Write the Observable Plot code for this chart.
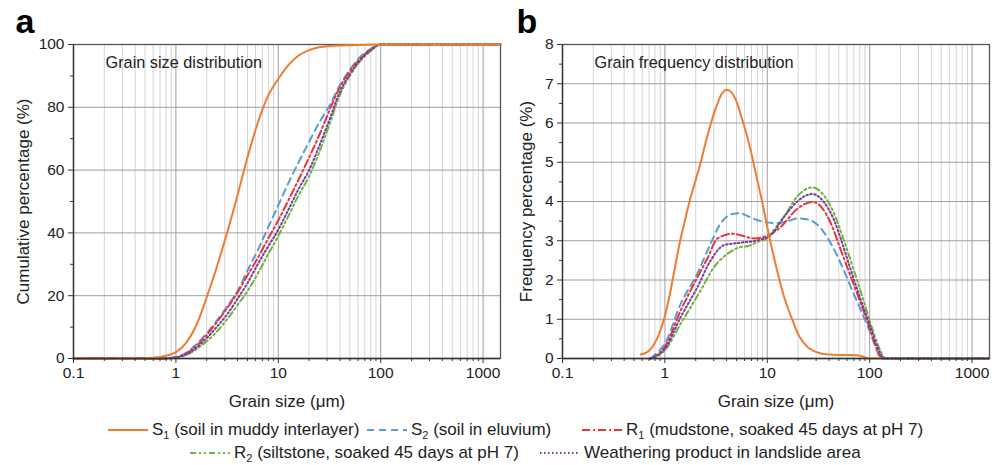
<!DOCTYPE html>
<html><head><meta charset="utf-8">
<script src="https://cdn.jsdelivr.net/npm/d3@7"></script>
<script src="https://cdn.jsdelivr.net/npm/@observablehq/plot@0.6"></script>
<style>
body{margin:0;background:#fff;}
#wrap{position:relative;width:998px;height:465px;font-family:"Liberation Sans",Arial,sans-serif;color:#222;overflow:hidden;}
#wrap > svg{position:absolute;top:0;}
.leg{position:absolute;display:flex;align-items:center;font-size:17px;white-space:nowrap;line-height:20px;color:#222;}
.leg svg{margin-right:4px;}
.leg sub{font-size:11px;vertical-align:-4px;line-height:0;}
</style></head><body><div id="wrap"></div>
<script>
// ---------- data ----------
const sizeTicks = [0.1, 1, 10, 100, 1000];
const sizeTickLabels = ["0.1", "1", "10", "100", "1000"];
const cumTicks = [0, 20, 40, 60, 80, 100];
const freqTicks = [0, 1, 2, 3, 4, 5, 6, 7, 8];

const seriesLabels = [
  "S<sub>1</sub> (soil in muddy interlayer)",
  "S<sub>2</sub> (soil in eluvium)",
  "R<sub>1</sub> (mudstone, soaked 45 days at pH 7)",
  "R<sub>2</sub> (siltstone, soaked 45 days at pH 7)",
  "Weathering product in landslide area"
];

// cumulative percentage (%) vs grain size (µm)
const cumS1 = [[0.1,0],[0.45,0],[0.55,0.15],[0.7,0.5],[0.85,1.1],[1,2],[1.26,5],[1.58,10.5],[2,19.5],[2.5,29],[3.16,40],[4,52],[5,64],[6.3,75],[7.9,83.5],[10,89],[12.6,93.5],[15.8,96.5],[20,98.2],[25,99.1],[32,99.5],[50,99.8],[100,100],[1480,100]];
const cumS2 = [[0.1,0],[0.72,0],[0.85,0.15],[1,0.5],[1.26,1.8],[1.58,4.5],[2,8],[2.5,12],[3.16,16.5],[4,21.5],[5,28],[6.3,34.5],[7.9,41.5],[10,48.8],[12.6,56],[15.8,62.5],[20,69],[25,75],[31.6,80.5],[40,87],[50,92],[63,96],[79,98.5],[100,100],[1480,100]];
const cumR1 = [[0.1,0],[0.72,0],[0.85,0.1],[1,0.4],[1.26,1.6],[1.58,4],[2,7.5],[2.5,11.5],[3.16,16],[4,21],[5,26.5],[6.3,32],[7.9,38],[10,44],[12.6,50.5],[15.8,57],[20,64],[25,71],[31.6,79],[40,86.5],[50,91.5],[63,95.5],[79,98.3],[100,100],[1480,100]];
const cumR2 = [[0.1,0],[0.75,0],[0.87,0.08],[1,0.3],[1.26,1.1],[1.58,2.9],[2,5.5],[2.5,8.5],[3.16,12.5],[4,17],[5,21.5],[6.3,27],[7.9,33],[10,39],[12.6,45.5],[15.8,52],[20,58],[25,65.5],[31.6,74.5],[40,84],[50,90],[63,94.7],[79,97.8],[100,100],[1480,100]];
const cumW  = [[0.1,0],[0.75,0],[0.87,0.08],[1,0.3],[1.26,1.3],[1.58,3.4],[2,6.5],[2.5,10],[3.16,14],[4,19],[5,24],[6.3,30],[7.9,35.5],[10,41],[12.6,47.5],[15.8,54],[20,60],[25,67.5],[31.6,76],[40,85],[50,90.5],[63,95],[79,98],[100,100],[1480,100]];

// frequency percentage (%) vs grain size (µm)
const freqS1 = [[0.58,0.1],[0.7,0.2],[0.8,0.4],[0.9,0.7],[1,1.08],[1.12,1.65],[1.26,2.35],[1.41,3.0],[1.58,3.55],[1.78,4.1],[2,4.55],[2.24,5.0],[2.5,5.5],[2.82,6.0],[3.16,6.4],[3.55,6.72],[4,6.85],[4.47,6.78],[5,6.55],[5.6,6.15],[6.3,5.7],[7.1,5.15],[7.9,4.6],[8.9,4.0],[10,3.35],[11.2,2.75],[12.6,2.2],[14.1,1.7],[15.8,1.3],[17.8,0.95],[20,0.62],[22.4,0.42],[25,0.28],[28,0.2],[32,0.14],[40,0.1],[50,0.09],[63,0.09],[75,0.08],[85,0.05],[95,0.01],[100,0],[130,0]];
const freqS2 = [[0.72,0],[0.8,0.1],[1,0.38],[1.43,1.4],[2.08,2.17],[2.8,2.93],[3.5,3.44],[4.7,3.69],[5.5,3.7],[6.4,3.63],[8.6,3.5],[12.6,3.45],[16,3.5],[19.8,3.57],[26.6,3.52],[33.5,3.31],[41.8,2.93],[52.3,2.42],[65.5,1.82],[82,1.23],[102,0.64],[119,0.17],[128,0],[1480,0]];
const freqR1 = [[0.72,0],[0.8,0.05],[1,0.3],[1.43,1.23],[1.93,1.91],[2.6,2.55],[3.27,3.06],[4.7,3.18],[5.5,3.14],[7.45,3.06],[9.3,3.1],[10.1,3.13],[13.5,3.35],[19.8,3.82],[27.6,3.99],[34.7,3.82],[41.8,3.44],[52.3,2.76],[65.5,2.08],[82,1.4],[99,0.8],[115,0.3],[128,0.04],[135,0],[1480,0]];
const freqR2 = [[0.72,0],[0.8,0.03],[1,0.21],[1.43,0.89],[2.24,1.74],[3.02,2.33],[4.1,2.67],[5.5,2.84],[6.4,2.86],[8.6,3.0],[9.3,3.02],[12.6,3.4],[14.6,3.62],[19.8,4.14],[27.6,4.36],[35.6,4.16],[45,3.69],[56,3.01],[70,2.25],[85,1.57],[102,0.89],[119,0.38],[140,0.02],[145,0],[1480,0]];
const freqW  = [[0.72,0],[0.8,0.05],[1,0.25],[1.43,1.06],[2.08,1.82],[2.8,2.5],[3.8,2.89],[5.5,2.95],[8.6,3.03],[10.8,3.14],[14.6,3.61],[19.8,4.01],[27.6,4.19],[35.6,3.99],[45,3.52],[54,2.93],[65.5,2.25],[82,1.49],[102,0.8],[119,0.3],[134,0.03],[140,0],[1480,0]];

// ---------- styles ----------
const colors = ["#ED7D31", "#5B9BD5", "#E0383E", "#6DB33F", "#7A3A9A"];
const dashes = [null, "7,5", "8,3,2,3", "6,3,2,3,2,3", "1.5,2.5"];
const FONT = '"Liberation Sans", Arial, sans-serif';

const minorX = [];
for (const d of [0.1, 1, 10, 100, 1000]) for (let k = 2; k <= 9; k++) { const v = d * k; if (v < 1480) minorX.push(v); }

function panel(opts) {
  const {yTicks, yMinor, yDomain, series, title, letter, ylabel, width, mLeft, mRight} = opts;
  const order = [1, 2, 3, 4, 0];
  const lines = order.map(i => Plot.line(series[i], {
    x: d => d[0], y: d => d[1], stroke: colors[i], strokeWidth: 2,
    strokeDasharray: dashes[i] ?? undefined, curve: "monotone-x"
  }));
  return Plot.plot({
    width, height: 415,
    marginLeft: mLeft, marginRight: mRight, marginTop: 44, marginBottom: 57,
    style: {fontFamily: FONT, fontSize: "15px", color: "#222", background: "transparent", overflow: "visible"},
    x: {type: "log", domain: [0.1, 1480], axis: null},
    y: {domain: yDomain, axis: null},
    marks: [
      Plot.ruleX(minorX, {stroke: "#d4d4d4", strokeWidth: 1}),
      Plot.ruleX(sizeTicks.slice(1), {stroke: "#9e9e9e", strokeWidth: 1}),
      Plot.ruleY(yTicks.slice(1), {stroke: "#9e9e9e", strokeWidth: 1}),
      Plot.frame({stroke: "#555", strokeWidth: 1.3}),
      ...lines,
      Plot.axisX({ticks: sizeTicks, tickFormat: d => sizeTickLabels[sizeTicks.indexOf(d)], tickSize: 5, tickPadding: 3, label: null, stroke: "#333", fontSize: 15.5}),
      Plot.axisX({ticks: minorX, tickFormat: () => "", tickSize: 3, label: null, stroke: "#333"}),
      Plot.axisY({ticks: yTicks, tickSize: 5, tickPadding: 4, label: null, stroke: "#333", fontSize: 15.5}),
      Plot.axisY({ticks: yMinor, tickFormat: () => "", tickSize: 3, label: null, stroke: "#333"}),
      Plot.ruleY([yDomain[0]], {stroke: "#333", strokeWidth: 1.3}),
      Plot.ruleX([0.1], {stroke: "#333", strokeWidth: 1.3}),
      Plot.text([title], {frameAnchor: "top-left", dx: 32, dy: 18, textAnchor: "start", lineAnchor: "middle", fontSize: 16.3, fill: "#222"}),
      Plot.text([letter], {frameAnchor: "top-left", dx: -mLeft + 15, dy: -22, textAnchor: "start", lineAnchor: "middle", fontSize: 34, fontWeight: "bold", fill: "#000"}),
      Plot.text([ylabel], {frameAnchor: "left", dx: opts.ylabelDx, rotate: -90, textAnchor: "middle", lineAnchor: "middle", fontSize: 17, fill: "#222"}),
      Plot.text(["Grain size (μm)"], {frameAnchor: "bottom", dy: 43, textAnchor: "middle", lineAnchor: "middle", fontSize: 17, fill: "#222"})
    ]
  });
}

const wrap = document.getElementById("wrap");
const a = panel({
  series: [cumS1, cumS2, cumR1, cumR2, cumW], yTicks: cumTicks, yMinor: [10, 30, 50, 70, 90], yDomain: [0, 100],
  title: "Grain size distribution", letter: "a", ylabel: "Cumulative percentage (%)", ylabelDx: -50,
  width: 501, mLeft: 73, mRight: 1
});
a.style.left = "0px";
wrap.appendChild(a);
const b = panel({
  series: [freqS1, freqS2, freqR1, freqR2, freqW], yTicks: freqTicks, yMinor: [0.5, 1.5, 2.5, 3.5, 4.5, 5.5, 6.5, 7.5], yDomain: [0, 8],
  title: "Grain frequency distribution", letter: "b", ylabel: "Frequency percentage (%)", ylabelDx: -36,
  width: 497, mLeft: 61, mRight: 9
});
b.style.left = "501px";
wrap.appendChild(b);

// ---------- legend ----------
const legendPos = [[108, 430], [367, 430], [582, 430], [190, 453], [540, 453]];
seriesLabels.forEach((lab, i) => {
  const div = document.createElement("div");
  div.className = "leg";
  div.style.left = legendPos[i][0] + "px";
  div.style.top = (legendPos[i][1] - 10) + "px";
  const dash = dashes[i] ? `stroke-dasharray="${dashes[i]}"` : "";
  div.innerHTML = `<svg width="40" height="10"><line x1="0" y1="5" x2="40" y2="5" stroke="${colors[i]}" stroke-width="2" ${dash}/></svg><span>${lab}</span>`;
  wrap.appendChild(div);
});
</script></body></html>
